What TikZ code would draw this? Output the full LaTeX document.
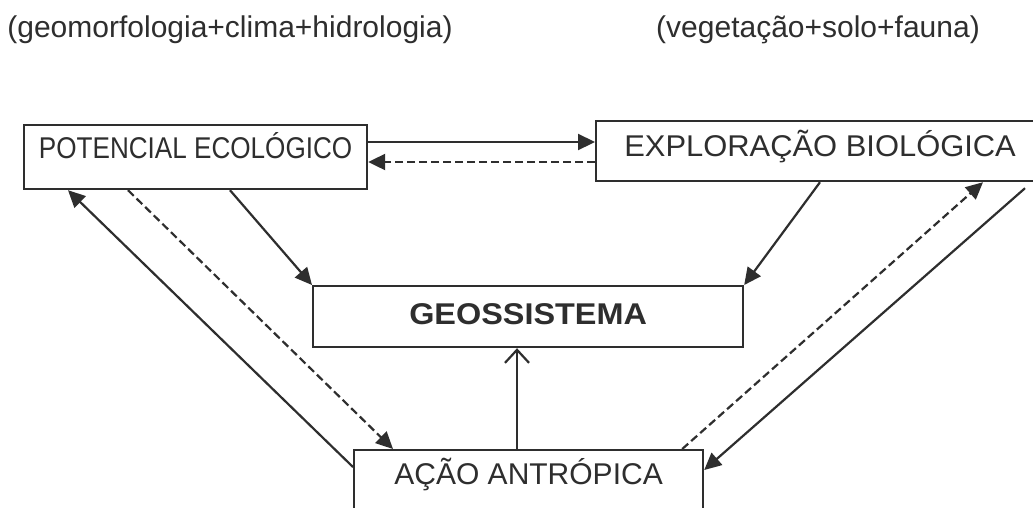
\documentclass[tikz,border=0pt]{standalone}
\usepackage{fontspec}
\setmainfont{Liberation Sans}
\usepackage{graphicx}
\usetikzlibrary{arrows.meta}
\definecolor{ink}{HTML}{2E2E2E}
\begin{document}
\begin{tikzpicture}[x=1pt,y=-1pt,
  box/.style={draw=ink,line width=2.2pt,text=ink,inner sep=0pt,anchor=north west,
    font=\fontsize{30}{30}\selectfont},
  conn/.style={draw=ink,line width=2.2pt,-{Triangle[length=17pt,width=16pt]}},
  dconn/.style={conn,dash pattern=on 8pt off 4pt},
  oconn/.style={draw=ink,line width=2.2pt,-{Straight Barb[length=13pt,width=24pt,line width=2.2pt]}},
  lbl/.style={text=ink,font=\fontsize{30}{30}\selectfont,anchor=base,inner sep=0pt}]
\useasboundingbox (0,0) rectangle (1033,507);
\fill[white] (0,0) rectangle (1033,507);

\node[lbl] (t1) at (230,37) {(geomorfologia+clima+hidrologia)};
\node[lbl] (t2) at (818,37) {(vegetação+solo+fauna)};

\node[box,minimum width=343pt,minimum height=64pt,text height=20pt,text depth=18pt]
  (pe) at (23,124) {\scalebox{0.87}[1]{POTENCIAL ECOLÓGICO}};
\node[box,minimum width=448pt,minimum height=60pt,text height=22pt,text depth=12pt]
  (eb) at (595,120) {\scalebox{1.03}[1]{EXPLORAÇÃO BIOLÓGICA}};
\node[box,minimum width=430pt,minimum height=61pt,text height=22pt,text depth=7pt,
  font=\fontsize{30}{30}\selectfont\bfseries]
  (geo) at (312,285) {\scalebox{1.08}[1]{GEOSSISTEMA}};
\node[box,minimum width=349pt,minimum height=71pt,text height=22pt,text depth=25pt]
  (aa) at (353,449) {AÇÃO ANTRÓPICA};

\draw[conn] ([yshift=-18pt]pe.north east) -- ([yshift=-22pt]eb.north west);
\draw[dconn] ([yshift=-42pt]eb.north west) -- ([yshift=-38pt]pe.north east);
\draw[conn] ([xshift=207pt]pe.south west) -- (geo.north west);
\draw[conn] ([xshift=225pt]eb.south west) -- (geo.north east);
\draw[conn] ([yshift=-18pt]aa.north west) -- ([xshift=45pt]pe.south west);
\draw[dconn] ([xshift=105pt]pe.south west) -- ([xshift=40pt]aa.north west);
\draw[dconn] ([xshift=-22pt]aa.north east) -- ([xshift=388pt]eb.south west);
\draw[conn] ([xshift=430pt,yshift=-6pt]eb.south west) -- ([yshift=-21pt]aa.north east);
\draw[oconn] ([xshift=164pt]aa.north west) -- ([xshift=205pt]geo.south west);
\end{tikzpicture}
\end{document}
